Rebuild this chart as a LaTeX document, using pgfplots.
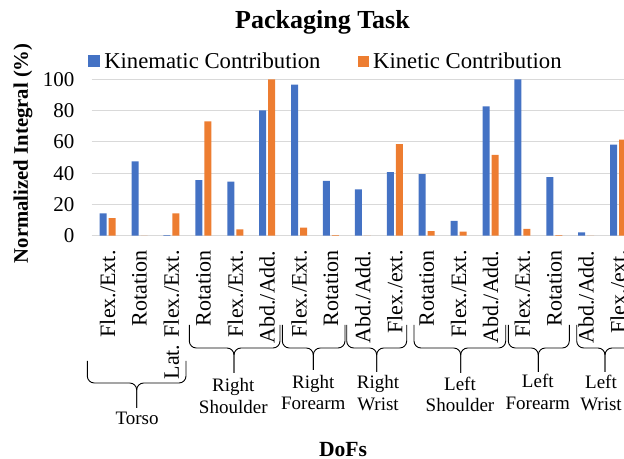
\documentclass[border=0pt]{standalone}
\usepackage{fontspec}
\setmainfont{Liberation Serif}
\usepackage{pgfplots}
\pgfplotsset{compat=1.18}
\definecolor{kblue}{HTML}{4472C4}
\definecolor{korange}{HTML}{ED7D31}
\definecolor{gridc}{HTML}{D9D9D9}
\newcommand\brc[6]{%
  \draw[line width=0.9pt, rounded corners=7pt] (#1pt,#4pt)--(#1pt,#5pt)--(#3pt,#5pt)--(#3pt,#6pt);
  \draw[line width=0.9pt, rounded corners=7pt] (#2pt,#4pt)--(#2pt,#5pt)--(#3pt,#5pt)--(#3pt,#6pt);}
\begin{document}
\begin{tikzpicture}
\useasboundingbox (0,0) rectangle (624pt,458pt);
\begin{axis}[
  at={(91.7pt,222.3pt)}, anchor=south west,
  scale only axis, width=542.4pt, height=156.4pt,
  xmin=-0.5, xmax=16.5, ymin=0, ymax=100,
  ybar, bar width=7pt,
  axis line style={draw=none}, major tick style={draw=none},
  ymajorgrids, grid style={gridc, line width=0.8pt},
  ytick={0,20,...,100},
  xtick={0,...,16},
  xticklabels={Flex./Ext., Rotation, Lat. Flex./Ext., Rotation, Flex./Ext., Abd./Add., Flex./Ext., Rotation, Abd./Add., Flex./ext., Rotation, Flex./Ext., Abd./Add., Flex./Ext., Rotation, Abd./Add., Flex./ext.},
  /pgf/number format/assume math mode=true,
  yticklabel style={font=\fontsize{21}{21}\selectfont, xshift=-13.7pt},
  xticklabel style={yshift=-7pt, rotate=90, anchor=east, font=\fontsize{22}{22}\selectfont},
  legend columns=2,
  legend style={at={(-0.00627,1.117)}, anchor=west, draw=none, fill=none,
    inner sep=0pt, outer sep=0pt, nodes={inner sep=0pt},
    font=\fontsize{22.7}{22.7}\selectfont,
    /tikz/every odd column/.append style={column sep=4.3pt},
    /tikz/every even column/.append style={column sep=37.3pt}},
]
\addplot[fill=kblue, draw=none, bar shift=-4.5pt,
  legend image code/.code={\fill[kblue] (0pt,-6pt) rectangle (11.7pt,5.7pt);}]
  coordinates {(0,14.3) (1,47.5) (2,0.4) (3,35.6) (4,34.5) (5,80.2) (6,96.6) (7,35.0) (8,29.6) (9,40.7) (10,39.4) (11,9.4) (12,82.7) (13,100) (14,37.5) (15,2.1) (16,58.2)};
\addlegendentry{Kinematic Contribution}
\addplot[fill=korange, draw=none, bar shift=4.5pt,
  legend image code/.code={\fill[korange] (0pt,-6pt) rectangle (11pt,5pt);}]
  coordinates {(0,11.3) (1,0) (2,14.3) (3,73.1) (4,4.1) (5,100) (6,5.1) (7,0.3) (8,0) (9,58.6) (10,3.0) (11,2.6) (12,51.6) (13,4.3) (14,0.3) (15,0) (16,61.4)};
\addlegendentry{Kinetic Contribution}
\end{axis}
\node[font=\fontsize{26}{26}\selectfont\bfseries] at (322.5pt,436pt) {Packaging Task};
\node[rotate=90, font=\fontsize{20.7}{20.7}\selectfont\bfseries] at (23pt,304.7pt) {Normalized Integral (\%)};
\node[font=\fontsize{21.6}{21.6}\selectfont\bfseries] at (343pt,8pt) {DoFs};
\brc{87.3}{186}{136.7}{97}{75}{50}
\brc{189.3}{280}{234}{133}{110}{85}
\brc{282.3}{345}{313.3}{133}{110}{88}
\brc{346.7}{406.7}{376.7}{133}{110}{86}
\brc{414}{505.7}{460.7}{133}{110}{85}
\brc{508.3}{569.3}{538.3}{133}{110}{86}
\brc{576.7}{636}{605}{133}{110}{86}
\begin{scope}[every node/.style={align=center, font=\fontsize{19}{21.5}\selectfont}]
\node at (137pt,40pt) {Torso};
\node at (233.3pt,62.2pt) {Right\\Shoulder};
\node at (313.3pt,65.5pt) {Right\\Forearm};
\node at (378pt,65pt) {Right\\Wrist};
\node at (460pt,63.5pt) {Left\\Shoulder};
\node at (537.8pt,66pt) {Left\\Forearm};
\node at (601pt,65pt) {Left\\Wrist};
\end{scope}
\end{tikzpicture}
\end{document}
